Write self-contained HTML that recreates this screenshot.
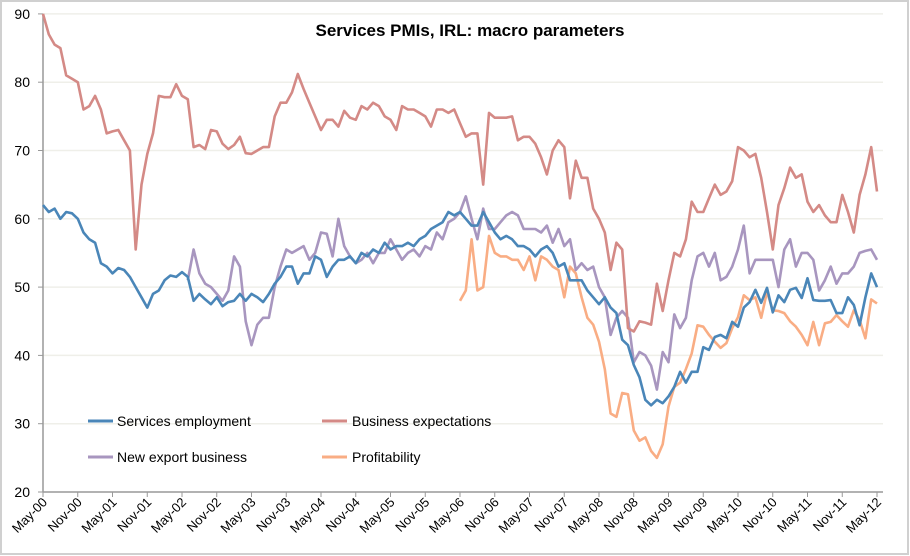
<!DOCTYPE html>
<html><head><meta charset="utf-8"><style>
html,body{margin:0;padding:0;background:#fff;}
svg{display:block;font-family:"Liberation Sans",sans-serif;}
</style></head><body>
<svg id="chart" width="910" height="556" viewBox="0 0 910 556" xmlns="http://www.w3.org/2000/svg">
<rect x="1" y="1" width="907" height="553" fill="#fff" stroke="#d0d0d0" stroke-width="2"/>
<text x="470" y="36" text-anchor="middle" font-size="17" font-weight="bold" fill="#000">Services PMIs, IRL: macro parameters</text>
<g id="grid"></g><g id="axes"></g><g id="series"></g>
<g>
<line x1="88" y1="421" x2="113" y2="421" stroke="#4a86b8" stroke-width="3"/>
<text x="117" y="426" font-size="14">Services employment</text>
<line x1="322" y1="421" x2="347" y2="421" stroke="#d48a86" stroke-width="3"/>
<text x="352" y="426" font-size="14">Business expectations</text>
<line x1="88" y1="457" x2="113" y2="457" stroke="#a896bf" stroke-width="3"/>
<text x="117" y="462" font-size="14">New export business</text>
<line x1="322" y1="457" x2="347" y2="457" stroke="#f9ad84" stroke-width="3"/>
<text x="352" y="462" font-size="14">Profitability</text>
</g>
</svg>
<script>
const yTicks=[20,30,40,50,60,70,80,90];
const xTickLabels=["May-00","Nov-00","May-01","Nov-01","May-02","Nov-02","May-03","Nov-03","May-04","Nov-04","May-05","Nov-05","May-06","Nov-06","May-07","Nov-07","May-08","Nov-08","May-09","Nov-09","May-10","Nov-10","May-11","Nov-11","May-12"];
const N=null;
const employment=[62,61,61.5,60,61,60.8,60,58,57,56.5,53.5,53,
52,52.8,52.5,51.5,50,48.5,47,49,49.5,51,51.7,51.5,
52.2,51.5,48,49,48.2,47.5,48.5,47.2,47.8,48,49,48,
49,48.5,47.8,49,50.5,51.5,53,53,50.5,52,52,54.5,
54,51.5,53,54,54,54.5,53.5,55,54.5,55.5,55,56.5,
55.5,56,56,56.5,56,57,57.5,58.5,59,59.5,61,60.5,
61,60,59,59,61,59.5,58,57,57.5,57,56,56,
55.5,54.5,55.5,56,55,53,53.5,51,51,51,49.5,48.5,
47.5,48.5,47,46.2,42.3,41.5,38.6,36.8,33.5,32.7,33.5,33,
34,35.4,37.6,36,37.6,37.6,41.2,40.8,42.7,43,42.5,44.9,
44.2,47,47.8,49.6,47.7,49.9,46.3,48.8,47.8,49.6,49.9,48.4,
51.3,48.1,48,48,48.1,46.2,46.2,48.5,47.4,44.4,48.5,52,50];
const expectations=[90,87,85.5,85,81,80.5,80,76,76.5,78,76,72.5,
72.8,73,71.5,70,55.5,65,69.5,72.5,78,77.8,77.8,79.7,
78,77.5,70.5,70.8,70.2,73,72.8,71,70.2,70.8,72,69.6,
69.5,70,70.5,70.5,75,77,77,78.5,81.2,79,77,75,
73,74.5,74.5,73.5,75.8,74.8,74.5,76.5,76,77,76.5,75,
74.5,73,76.5,76,76,75.5,75,73.5,76,76,75.5,76,
74,72,72.5,72.5,65,75.5,74.8,74.8,74.8,75,71.5,72,
72,71,69,66.5,70,71.5,70.5,63,68.5,66,66,61.5,
60,58,52.5,56.5,55.5,44,43.5,45,44.8,44.5,50.5,46.5,
51,55,54.5,57,62.5,61,61,63,65,63.5,64,65.5,
70.5,70,69,69.5,66,61,55.5,62,64.5,67.5,66,66.5,
62.5,61,62,60.5,59.5,59.5,63.5,61,58,63.5,66.5,70.5,64];
const exportBiz=[N,N,N,N,N,N,N,N,N,N,N,N,N,N,N,N,N,N,N,N,N,N,N,N,N,
51,55.5,52,50.5,50,49,48,49.5,54.5,53,45,
41.5,44.5,45.5,45.5,50,53,55.5,55,55.5,56,54,55,
58,57.8,54.5,60,56,54.5,53.5,54,55,53.5,55,55,
57,55.5,54,55,55.5,54.5,56,55.5,58,57,59.5,60,
61,63.3,60,57,61.5,58.5,58.5,59.5,60.5,61,60.5,58.5,
58.5,58.5,58,59,56.5,58.5,56,57,52.5,53.5,52.5,53,
50,48.5,43,45.5,46.5,45.5,39,40.5,40,38.5,35,40.5,
39,46,44,45.5,51,54.5,55,53,55,51,51.5,53,
55.5,59,52,54,54,54,54,50,55.5,57,53,55,
55,54,49.5,51,53,50.5,52,52,53,55,55.3,55.5,54];
const profitability=[N,N,N,N,N,N,N,N,N,N,N,N,N,N,N,N,N,N,N,N,N,N,N,N,
N,N,N,N,N,N,N,N,N,N,N,N,N,N,N,N,N,N,N,N,N,N,N,N,
N,N,N,N,N,N,N,N,N,N,N,N,N,N,N,N,N,N,N,N,N,N,N,N,
48,49.5,57,49.5,50,57.5,55,54.5,54.5,54,54,52.5,
54.5,51,54.5,54,53,52.5,48.5,53,52,48.5,45.5,44.5,
42,38,31.5,31,34.5,34.3,29,27.5,28,26,25,27,
32.5,35.4,36,38,40.3,44.4,44.2,43,42,41.1,41.8,44,
45.6,48.8,48.1,48.5,45.5,49.3,46.6,46.5,46.2,45,44.2,43,
41.5,44.9,41.5,44.7,44.9,45.9,45,44.2,46.6,45.2,42.5,48.2,47.6];

const X0=43,X1=877,Y0=492,Y1=13.9,NM=144;
function xs(i){return X0+(X1-X0)*i/NM;}
function ys(v){return Y0-(v-20)*(Y0-Y1)/70;}
const NS="http://www.w3.org/2000/svg";
function mk(tag,attrs,parent){const e=document.createElementNS(NS,tag);for(const k in attrs)e.setAttribute(k,attrs[k]);parent.appendChild(e);return e;}
const grid=document.getElementById('grid'),axes=document.getElementById('axes'),ser=document.getElementById('series');
yTicks.forEach(t=>{
  if(t>20){const g=mk('line',{x1:X0,x2:X1+6,y1:ys(t),y2:ys(t),stroke:'#efefe9','stroke-width':1.5},grid);
  
  }
  mk('line',{x1:X0-5,x2:X0,y1:ys(t),y2:ys(t),stroke:'#999'},axes);
  const tx=mk('text',{x:X0-13,y:ys(t)+5,'text-anchor':'end','font-size':14,fill:'#000'},axes);
  tx.textContent=t;
  
  
});
const ya=mk('line',{x1:X0,x2:X0,y1:Y1,y2:Y0,stroke:'#999','stroke-width':1.5},axes);


const xa=mk('line',{x1:X0,x2:X1+6,y1:Y0,y2:Y0,stroke:'#999','stroke-width':1.5},axes);


xTickLabels.forEach((lab,k)=>{
  const x=xs(k*6);
  mk('line',{x1:x,x2:x,y1:Y0,y2:Y0+5,stroke:'#999'},axes);
  const tx=mk('text',{x:x+5,y:Y0+11,'text-anchor':'end','font-size':13,transform:'rotate(-45 '+(x+5)+' '+(Y0+11)+')'},axes);
  tx.textContent=lab;
  
  
});
function drawLine(arr,color,name){
  let d='',pen=false;
  arr.forEach((v,i)=>{if(v==null){pen=false;return;}d+=(pen?'L':'M')+xs(i).toFixed(1)+' '+ys(v).toFixed(1);pen=true;});
  const p=mk('path',{d:d,fill:'none',stroke:color,'stroke-width':2.6,'stroke-linejoin':'round'},ser);
  
  
}
drawLine(profitability,'#f9ad84','profitability-line');
drawLine(exportBiz,'#a896bf','new-export-business-line');
drawLine(employment,'#4a86b8','services-employment-line');
drawLine(expectations,'#d48a86','business-expectations-line');
</script>
</body></html>
